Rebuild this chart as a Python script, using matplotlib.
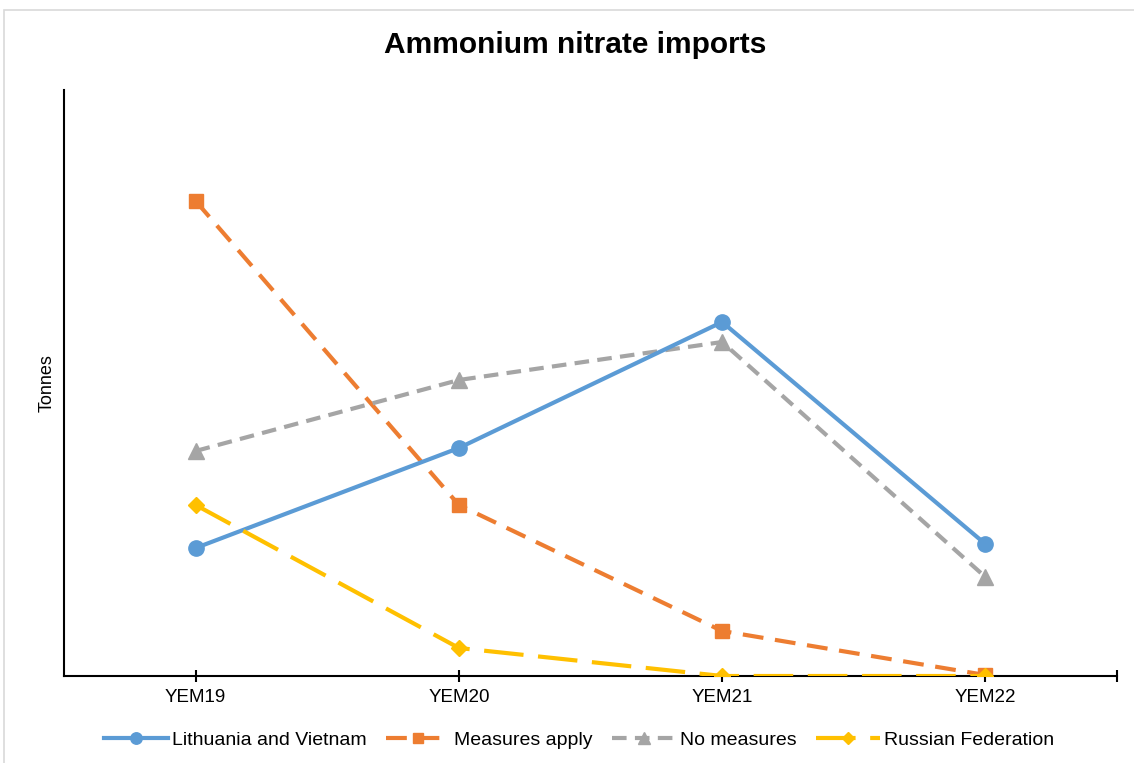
import matplotlib.pyplot as plt
from matplotlib.patches import Rectangle

plt.rcParams['font.family'] = ['Liberation Sans', 'DejaVu Sans']

# 数据（从图中估读，单位：相对高度）
years = ['YEM19', 'YEM20', 'YEM21', 'YEM22']
lithuania_vietnam = [128, 228, 354, 132]
measures_apply = [475, 171, 45, 1]
no_measures = [225, 296, 334, 99]
russian_federation = [171, 28, 0, 0]

fig = plt.figure(figsize=(11.34, 7.63), dpi=100)
ax = fig.add_axes([64 / 1134, 87 / 763, (1117 - 64) / 1134, (676 - 90) / 763])

# 外框
fig.patches.append(Rectangle((4 / 1134, -0.1), 1.1, 1.1 - 10 / 763, transform=fig.transFigure,
                             fill=False, edgecolor='#D9D9D9', lw=1.2))

x = list(range(len(years)))
ax.plot(x, lithuania_vietnam, color='#5B9BD5', lw=3, marker='o', ms=11,
        label='Lithuania and Vietnam', zorder=4)
ax.plot(x, measures_apply, color='#ED7D31', lw=3, marker='s', ms=10,
        dashes=(5, 2.8), label='Measures apply', zorder=3)
ax.plot(x, no_measures, color='#A5A5A5', lw=3, marker='^', ms=11,
        dashes=(3.5, 2), label='No measures', zorder=3)
ax.plot(x, russian_federation, color='#FFC000', lw=3, marker='D', ms=8,
        dashes=(9.5, 3.5), label='Russian Federation', zorder=5)

ax.set_xlim(-0.5, 3.5)
ax.set_ylim(0, 586)
ax.set_xticks(x + [3.5])
ax.set_xticklabels(years + [''], fontsize=13.5)
ax.tick_params(axis='x', direction='inout', length=8, width=1.5, pad=5, colors='black')
ax.set_yticks([])
for s in ['top', 'right']:
    ax.spines[s].set_visible(False)
ax.spines['left'].set_linewidth(1.5)
ax.spines['bottom'].set_linewidth(1.5)
ax.spines['bottom'].set_zorder(2)

ax.set_ylabel('Tonnes', fontsize=13, labelpad=6)
fig.text(575 / 1134, 1 - 45 / 763, 'Ammonium nitrate imports', ha='center', va='center',
         fontsize=21.5, fontweight='bold')

fig.legend(loc='center', bbox_to_anchor=(579 / 1134, 1 - 740 / 763), ncol=4, frameon=False,
           fontsize=14, handlelength=3.3, columnspacing=1.0, handletextpad=0.2, markerscale=0.75)

fig.savefig('out.png', dpi=100)
